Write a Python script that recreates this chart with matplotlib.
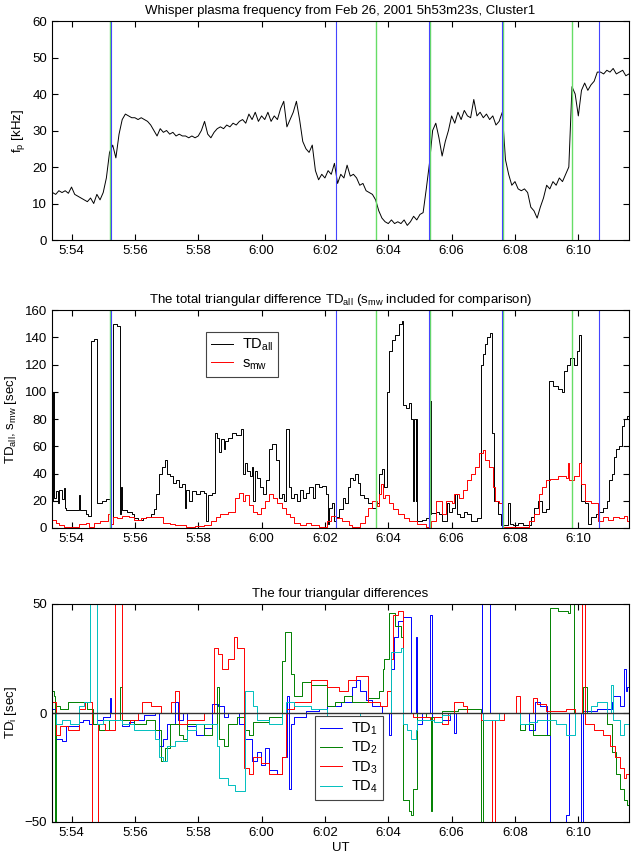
import numpy as np
import matplotlib
matplotlib.use("Agg")
import matplotlib.pyplot as plt
from matplotlib.ticker import FixedLocator, FuncFormatter

plt.rcParams['font.family'] = ['Liberation Sans', 'DejaVu Sans']
plt.rcParams['mathtext.default'] = 'regular'
plt.rcParams['font.size'] = 9.5

# --- data (times in minutes after 5:00 UT) ---
t_start = 53 + 23 / 60.0
t_end = 71.6

# plasma frequency, one value every 0.1 min from 5:53:24
fp_t0 = 53.4
fp_vals = [13, 12.5, 13.5, 13, 13.5, 12.8, 14.5, 12.5, 12, 11.5,
           11, 10.5, 11.5, 10, 12.5, 11, 13, 17, 24, 26,
           22.5, 29, 33, 34.5, 34, 33.5, 33.5, 33, 33.5, 33,
           32.5, 31.5, 30, 28.5, 30.5, 29.5, 30, 29, 29.5, 28.5,
           29, 28.5, 28.5, 28, 28.5, 28, 28.5, 30, 32.5, 29,
           28, 29.5, 30.5, 31, 30.5, 31.5, 31, 32, 31.5, 32.5,
           33, 32, 34.5, 33, 35, 32.5, 34, 33, 35, 32.5,
           34, 33, 36, 38, 31, 33, 35, 38, 33, 27,
           25, 24, 26, 19, 16.5, 18, 17, 19, 18, 21,
           15.5, 18, 17, 20.5, 17.5, 18, 17, 15, 15.5, 13.5,
           13, 12.5, 11, 8, 6, 5, 4.5, 5.5, 4.5, 5,
           4.5, 5.5, 4, 5, 6.5, 5.5, 7, 7.5, 14, 21,
           30, 32, 28, 23, 27, 30, 34, 32, 35, 33,
           35.5, 34, 33.5, 38.5, 34, 35, 33.5, 34.5, 33, 34,
           31.5, 32.5, 35, 22, 18, 15, 16, 14, 13.5, 14,
           13, 9, 8, 6, 9, 11.5, 15, 14, 16, 15,
           17, 16, 18, 20, 42, 40, 34, 41, 43, 41,
           42.5, 43.5, 46, 46, 45.5, 46.5, 46, 47, 45.5, 46,
           46.5, 45, 45.5]

# boundary markers
green_lines = [55.22, 63.62, 65.31, 67.62, 69.81]
blue_lines = [55.26, 62.35, 65.27, 67.58, 70.64]

# total triangular difference (step breakpoints)
tdall_t = [53.38, 53.42, 53.44, 53.50, 53.57, 53.62, 53.70, 53.75, 53.80, 53.83,
           54.22, 54.28, 54.45, 54.52, 54.61, 54.72, 54.80, 54.95, 55.10, 55.22,
           55.30, 55.45, 55.54, 55.57, 55.60, 55.75, 55.90, 55.97, 56.10, 56.25,
           56.36, 56.50, 56.60, 56.68, 56.75, 56.85, 56.95, 57.01, 57.10, 57.20,
           57.30, 57.40, 57.50, 57.59, 57.62, 57.70, 57.79, 57.92, 58.05, 58.18,
           58.24, 58.31, 58.44, 58.52, 58.60, 58.66, 58.72, 58.80, 58.85, 58.95,
           59.08, 59.20, 59.34, 59.42, 59.47, 59.55, 59.62, 59.70, 59.73, 59.78,
           59.86, 59.95, 60.05, 60.15, 60.25, 60.32, 60.45, 60.55, 60.64, 60.72,
           60.78, 60.88, 60.93, 61.03, 61.12, 61.20, 61.30, 61.40, 61.50, 61.62,
           61.70, 61.80, 61.92, 62.02, 62.10, 62.14, 62.22, 62.30, 62.36, 62.46,
           62.56, 62.64, 62.72, 62.80, 62.88, 62.95, 63.05, 63.11, 63.24, 63.36,
           63.49, 63.62, 63.72, 63.80, 63.88, 63.97, 64.03, 64.12, 64.22, 64.34,
           64.42, 64.46, 64.55, 64.66, 64.73, 64.78, 64.80, 64.86, 64.88, 64.92,
           65.05, 65.18, 65.27, 65.31, 65.34, 65.36, 65.50, 65.60, 65.70, 65.84,
           65.92, 66.02, 66.10, 66.16, 66.28, 66.38, 66.50, 66.60, 66.80, 66.92,
           66.98, 67.05, 67.12, 67.20, 67.28, 67.35, 67.45, 67.55, 67.78, 67.85,
           67.95, 68.10, 68.25, 68.50, 68.60, 68.72, 68.85, 68.97, 69.08, 69.20,
           69.36, 69.48, 69.55, 69.65, 69.75, 69.85, 69.95, 70.03, 70.10, 70.22,
           70.32, 70.40, 70.55, 70.66, 70.78, 70.90, 70.98, 71.05, 71.12, 71.20,
           71.30, 71.38, 71.45, 71.55, 71.60]
tdall_v = [20, 100, 22, 27, 18, 28, 21, 29, 15, 13,
           24, 13, 10, 9, 137, 139, 18, 20, 21, 3,
           150, 148, 10, 30, 13, 12, 10, 7, 6, 7,
           8, 10, 14, 25, 40, 45, 50, 40, 38, 33,
           35, 30, 32, 15, 28, 20, 27, 25, 27, 26,
           5, 24, 26, 70, 66, 56, 65, 58, 64, 66,
           70, 68, 73, 40, 48, 42, 38, 45, 20, 42,
           37, 30, 25, 35, 58, 62, 50, 22, 25, 20,
           73, 30, 22, 25, 20, 28, 22, 26, 30, 22,
           32, 30, 31, 25, 3, 15, 18, 5, 8, 14,
           22, 18, 30, 37, 35, 40, 33, 24, 22, 18,
           15, 18, 40, 43, 30, 100, 130, 138, 142, 150,
           152, 90, 88, 92, 80, 20, 80, 20, 80, 5,
           6, 7, 3, 10, 93, 11, 12, 10, 5, 18,
           12, 15, 25, 10, 8, 12, 10, 5, 7, 120,
           128, 135, 140, 143, 70, 20, 10, 2, 18, 3,
           2, 4, 2, 8, 15, 20, 12, 14, 108, 104,
           102, 100, 115, 120, 125, 120, 130, 142, 20, 18,
           3, 8, 10, 12, 15, 20, 35, 40, 52, 58,
           60, 75, 80, 82, 80]

smw_t = [53.38, 53.50, 53.60, 53.75, 54.00, 54.25, 54.45, 54.55, 54.70, 54.90,
         55.15, 55.22, 55.30, 55.45, 55.60, 55.80, 55.97, 56.20, 56.36, 56.62,
         56.90, 57.10, 57.27, 57.60, 57.90, 58.18, 58.40, 58.55, 58.70, 58.95,
         59.15, 59.28, 59.40, 59.47, 59.60, 59.73, 59.86, 59.99, 60.12, 60.25,
         60.35, 60.50, 60.64, 60.77, 60.90, 61.03, 61.20, 61.40, 61.55, 61.80,
         62.07, 62.20, 62.35, 62.55, 62.75, 62.85, 63.11, 63.25, 63.36, 63.50,
         63.65, 63.72, 63.78, 63.84, 63.90, 64.01, 64.14, 64.30, 64.50, 64.66,
         64.90, 65.18, 65.27, 65.35, 65.50, 65.70, 65.83, 66.00, 66.09, 66.22,
         66.35, 66.48, 66.61, 66.74, 66.87, 67.00, 67.06, 67.19, 67.30, 67.38,
         67.51, 67.58, 67.80, 68.20, 68.45, 68.60, 68.75, 68.84, 68.97, 69.10,
         69.36, 69.62, 69.68, 69.72, 69.85, 70.01, 70.10, 70.20, 70.40, 70.62,
         70.79, 70.95, 71.10, 71.30, 71.45, 71.55, 71.60]
smw_v = [6, 4, 2, 1, 0.5, 3, 4, 1, 4, 5,
         10, 3, 8, 7, 9, 8, 6, 7, 8, 8,
         4, 3, 2, 1, 1.5, 2, 5, 8, 10, 12,
         22, 26, 20, 24, 17, 12, 10, 15, 20, 25,
         22, 18, 15, 10, 8, 4, 2, 4, 2, 1,
         5, 9, 7, 5, 2, 0.5, 4, 9, 15, 20,
         16, 25, 32, 22, 24, 18, 14, 10, 7, 5,
         3, 1, 0, 5, 20, 10, 20, 18, 25, 22,
         28, 35, 40, 45, 55, 57, 50, 45, 30, 20,
         18, 1, 0.5, 1, 5, 10, 25, 30, 35, 36,
         38, 37, 48, 35, 38, 48, 32, 20, 18, 5,
         8, 6, 8, 7, 9, 5, 5]

# the four triangular differences (step breakpoints; +-70 = off scale)
td1_t = [53.38, 53.47, 53.51, 53.70, 53.83, 54.22, 54.35, 54.54, 54.80, 55.00,
         55.20, 55.24, 55.58, 55.80, 55.97, 56.30, 56.62, 56.75, 56.88, 57.00,
         57.27, 57.35, 57.53, 57.66, 57.92, 58.18, 58.44, 58.63, 58.80, 58.95,
         59.30, 59.47, 59.70, 59.86, 59.99, 60.12, 60.25, 60.50, 60.64, 60.80,
         60.86, 60.92, 61.03, 61.40, 61.80, 62.07, 62.50, 62.85, 62.98, 63.11,
         63.30, 63.50, 63.80, 64.01, 64.08, 64.18, 64.30, 64.47, 64.73, 64.86,
         64.90, 65.05, 65.33, 65.37, 65.70, 65.96, 66.09, 66.15, 66.97, 67.22,
         68.45, 68.64, 68.80, 69.00, 69.10, 69.62, 69.70, 70.10, 70.16, 70.60,
         71.05, 71.11, 71.31, 71.44, 71.50, 71.55, 71.60]
td1_v = [2, 0, -12, -13, -6, -4, -3, -5, -3, -2,
         7, 0, -6, -4, -3, -1, 0, -15, -12, -5,
         5, -3, 0, -6, -10, -7, 4, 3, -2, 0,
         -5, -12, -22, -18, -24, -16, -26, -28, -20, 8,
         -35, -5, -2, 1, 2, 3, 5, 12, 15, 10,
         6, 3, 0, -10, 20, 35, 42, 44, 0, 35,
         -5, 0, 45, -2, -3, 0, -9, 0, 70, 0,
         -8, 5, 3, -10, -70, -47, 0, -70, 1, 2,
         5, 8, 3, 20, 10, 12, 12]

td2_t = [53.38, 53.44, 53.47, 53.50, 53.64, 53.90, 54.22, 54.48, 54.67, 54.87,
         55.19, 55.54, 55.58, 55.97, 56.36, 56.62, 56.81, 56.94, 57.10, 57.40,
         57.53, 57.66, 58.18, 58.44, 58.60, 58.66, 58.82, 58.95, 59.21, 59.47,
         59.60, 59.73, 60.25, 60.64, 60.75, 60.92, 61.03, 61.29, 61.55, 62.07,
         62.33, 62.59, 62.85, 63.36, 63.70, 63.82, 63.88, 64.01, 64.20, 64.40,
         64.47, 64.66, 64.73, 64.79, 64.92, 65.20, 65.34, 65.38, 65.70, 66.20,
         66.93, 67.00, 68.16, 68.32, 68.58, 69.10, 69.36, 69.68, 69.75, 69.85,
         70.14, 70.27, 70.92, 71.05, 71.18, 71.31, 71.44, 71.55, 71.60]
td2_v = [10, 8, -70, 3, 2, 5, 5, 2, -5, -8,
         -3, 12, -3, -5, -3, -8, -22, -16, -5, -10,
         -12, -5, -10, -5, 12, -12, -15, -5, -2, -8,
         -10, -4, -2, 24, 37, 18, 8, 14, 13, 3,
         5, 8, 5, 7, 10, 20, 25, 46, 40, 35,
         -40, -45, -47, -35, 0, -2, -45, -2, 1, 2,
         -70, 0, -8, -5, -10, 48, 47, 46, 70, 0,
         12, 0, -5, -18, -28, -35, -40, -42, -42]

td3_t = [53.38, 53.51, 53.64, 53.90, 54.22, 54.42, 54.64, 54.84, 55.06, 55.36,
         55.58, 55.84, 56.10, 56.23, 56.50, 56.81, 57.14, 57.27, 57.40, 57.66,
         58.18, 58.50, 58.63, 58.76, 58.95, 59.12, 59.21, 59.45, 59.60, 59.73,
         59.99, 60.25, 60.64, 60.77, 61.03, 61.29, 61.55, 62.07, 62.46, 62.72,
         62.98, 63.36, 63.75, 63.95, 64.08, 64.14, 64.30, 64.47, 64.79, 65.31,
         65.44, 65.70, 65.90, 66.09, 66.35, 66.48, 66.93, 67.29, 67.38, 67.64,
         68.03, 68.16, 68.58, 68.71, 68.97, 69.62, 69.88, 70.11, 70.20, 70.50,
         70.79, 71.00, 71.15, 71.31, 71.44, 71.52, 71.60]
td3_v = [5, -10, -6, -8, 2, 5, -70, -5, -8, 70,
         -5, -3, 0, 5, 3, 0, 5, 10, -5, -3,
         0, 30, 27, 20, 25, 35, 30, -25, -28, -20,
         -23, -28, -20, 2, 5, 5, 15, 12, 10, 15,
         17, 5, 3, 10, 25, 45, 47, 0, -2, -3,
         -2, -5, 0, 5, 3, 0, -3, -70, -3, 0,
         8, 0, 7, 4, 1, 2, 0, 70, -5, -8,
         -10, -15, -20, -25, -30, -28, -28]

td4_t = [53.38, 53.51, 53.70, 53.96, 54.22, 54.40, 54.57, 54.80, 55.00, 55.58,
         55.97, 56.62, 56.75, 56.88, 57.01, 57.27, 57.66, 57.92, 58.44, 58.60,
         58.66, 58.95, 59.15, 59.47, 59.73, 59.86, 60.25, 60.64, 60.77, 61.03,
         61.55, 62.07, 62.59, 63.11, 64.08, 64.40, 64.47, 64.60, 64.73, 64.86,
         64.92, 65.44, 65.70, 65.96, 67.00, 67.51, 68.16, 68.45, 68.71, 69.30,
         69.62, 69.88, 70.40, 70.60, 70.92, 71.02, 71.11, 71.31, 71.44, 71.60]
td4_v = [0, -5, -3, -5, 3, 5, 70, -5, -3, -5,
         -8, -12, -20, -22, -15, -13, -8, -5, -5, -15,
         -30, -33, -36, 10, 3, -3, -5, 0, 5, 3,
         2, -5, -3, 0, 28, 30, -5, -8, -12, -8,
         -3, -4, -1, 0, -3, 0, -5, -4, -3, -5,
         -10, 0, 3, 5, 0, 13, -3, -10, -5, -5]

titles = ['Whisper plasma frequency from Feb 26, 2001 5h53m23s, Cluster1',
          'The total triangular difference TD$_{all}$ (s$_{mw}$ included for comparison)',
          'The four triangular differences']
xticks = [54, 56, 58, 60, 62, 64, 66, 68, 70]


def hm(x, pos=None):
    m = int(round(x))
    return '%d:%02d' % (5 + m // 60, m % 60)


fig = plt.figure(figsize=(6.39, 8.58), dpi=100)
left, width = 52 / 639, 577 / 639
ax1 = fig.add_axes([left, 1 - 240 / 858, width, 219 / 858])
ax2 = fig.add_axes([left, 1 - 528 / 858, width, 218 / 858])
ax3 = fig.add_axes([left, 1 - 822 / 858, width, 218 / 858])

for ax in (ax1, ax2, ax3):
    ax.set_xlim(t_start, t_end)
    ax.xaxis.set_major_locator(FixedLocator(xticks))
    ax.xaxis.set_major_formatter(FuncFormatter(hm))
    ax.tick_params(direction='in', top=True, right=True, length=4, labelsize=9.5)

legend_style = dict(fancybox=False, edgecolor='#444444', framealpha=1, fontsize=10.5,
                    handlelength=1.5, handletextpad=0.6, labelspacing=0.2,
                    borderpad=0.35, borderaxespad=0)

# panel 1
fp_t = fp_t0 + 0.1 * np.arange(len(fp_vals))
ax1.plot(fp_t, fp_vals, color='black', lw=0.7)
ax1.set_ylim(0, 60)
ax1.set_ylabel('f$_p$ [kHz]')
ax1.set_title(titles[0], fontsize=9.5, pad=5)

# panel 2
ax2.step(tdall_t, tdall_v, where='post', color='black', lw=0.7, label='TD$_{all}$')
ax2.step(smw_t, smw_v, where='post', color='red', lw=0.7, label='s$_{mw}$')
ax2.set_ylim(0, 160)
ax2.set_yticks(range(0, 161, 20))
ax2.set_ylabel('TD$_{all}$, s$_{mw}$ [sec]')
ax2.set_title(titles[1], fontsize=9.5, pad=5)
leg = ax2.legend(loc='upper left', bbox_to_anchor=(0.267, 0.9), **legend_style)
leg.get_frame().set_linewidth(0.8)

for ax in (ax1, ax2):
    for x in green_lines:
        ax.axvline(x, color='#66dd66', lw=1.0)
    for x in blue_lines:
        ax.axvline(x, color='#4444ff', lw=0.8)

# panel 3
for tt, vv, c, lab in [(td1_t, td1_v, 'blue', 'TD$_1$'),
                       (td2_t, td2_v, 'green', 'TD$_2$'),
                       (td3_t, td3_v, 'red', 'TD$_3$'),
                       (td4_t, td4_v, 'c', 'TD$_4$')]:
    ax3.step(tt, vv, where='post', color=c, lw=0.7, label=lab)
ax3.axhline(0, color='#333333', lw=1.0)
ax3.set_ylim(-50, 50)
ax3.set_yticks([-50, 0, 50])
ax3.set_ylabel('TD$_i$ [sec]')
ax3.set_xlabel('UT', labelpad=2)
ax3.set_title(titles[2], fontsize=9.5, pad=5)
leg3 = ax3.legend(loc='lower left', bbox_to_anchor=(0.456, 0.10), **legend_style)
leg3.get_frame().set_linewidth(0.8)

fig.savefig('out.png', dpi=100)
